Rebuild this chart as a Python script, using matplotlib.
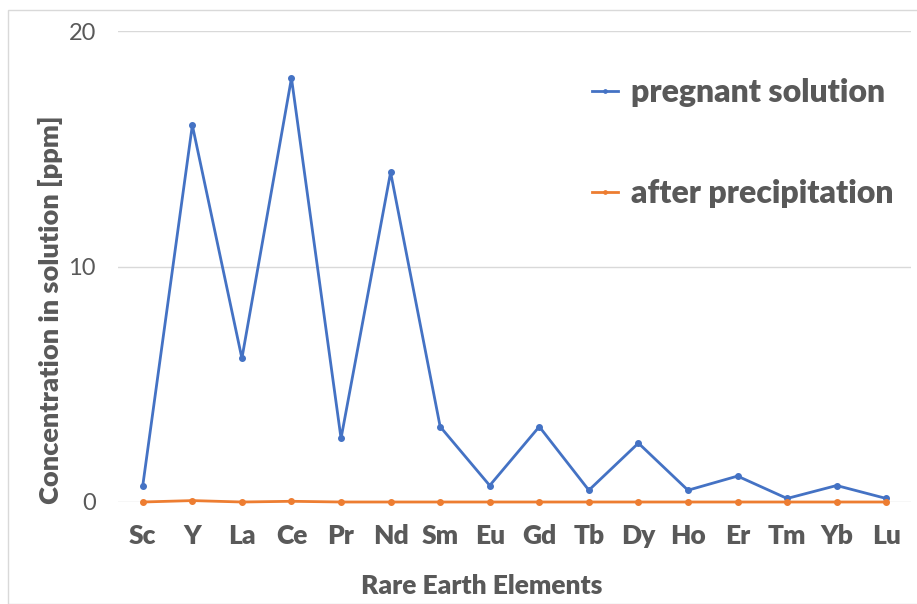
import matplotlib.pyplot as plt
from matplotlib.patches import Rectangle

# Rare earth element concentrations (ppm)
elements = ['Sc', 'Y', 'La', 'Ce', 'Pr', 'Nd', 'Sm', 'Eu', 'Gd', 'Tb',
            'Dy', 'Ho', 'Er', 'Tm', 'Yb', 'Lu']
pregnant = [0.7, 16.0, 6.1, 18.0, 2.7, 14.0, 3.2, 0.7, 3.2, 0.5,
            2.5, 0.5, 1.1, 0.15, 0.7, 0.15]
after_precip = [0.0, 0.06, 0.0, 0.03, 0.0, 0.0, 0.0, 0.0, 0.0, 0.0,
                0.0, 0.0, 0.0, 0.0, 0.0, 0.0]

plt.rcParams['font.family'] = ['Lato', 'DejaVu Sans']
grey = '#595959'
blue = '#4472C4'
orange = '#ED7D31'
wt = 'heavy'

fig = plt.figure(figsize=(9.17, 6.04), dpi=100)
ax = fig.add_axes([118 / 917, 102 / 604, 793 / 917, 471 / 604])

# light border around the chart area
fig.patches.append(Rectangle((8 / 917, 0), 1.0, 594 / 604, transform=fig.transFigure,
                             fill=False, edgecolor='#d9d9d9', linewidth=1))

x = range(len(elements))
ax.plot(x, pregnant, color=blue, lw=2, marker='o', ms=4, label='pregnant solution',
        clip_on=False, zorder=3)
ax.plot(x, after_precip, color=orange, lw=2, marker='o', ms=4, label='after precipitation',
        clip_on=False, zorder=3)

ax.set_xlim(-0.5, len(elements) - 0.5)
ax.set_ylim(0, 20)
ax.set_yticks([0, 10, 20])
ax.set_xticks(list(x))
ax.set_xticklabels(elements, fontsize=19, fontweight=wt, color=grey)
ax.tick_params(axis='y', labelsize=17, labelcolor=grey, length=0, pad=16)
ax.tick_params(axis='x', length=0, pad=16)
ax.grid(axis='y', color='#d9d9d9', lw=1)
ax.set_axisbelow(True)
for s in ax.spines.values():
    s.set_visible(False)

ax.set_xlabel('Rare Earth Elements', fontsize=19, fontweight=wt, color=grey)
ax.xaxis.set_label_coords(0.458, -0.152)
ax.set_ylabel('Concentration in solution [ppm]', fontsize=19.5, fontweight=wt, color=grey)
ax.yaxis.set_label_coords(-0.069, 0.408)

leg = ax.legend(loc='upper left', bbox_to_anchor=(0.598, 0.9), frameon=False,
                prop={'size': 23, 'weight': wt}, labelspacing=2.25,
                handlelength=0.8, handletextpad=0.4, borderpad=0, borderaxespad=0,
                markerscale=0.6)
for t in leg.get_texts():
    t.set_color(grey)

fig.savefig('out.png', dpi=100)
